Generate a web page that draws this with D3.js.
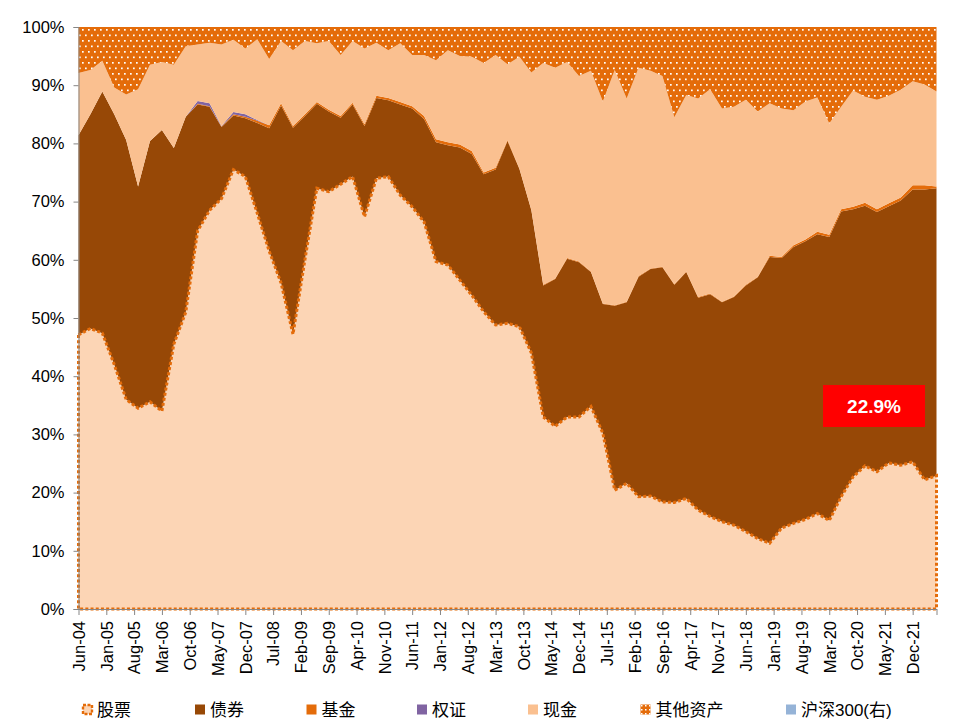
<!DOCTYPE html>
<html><head><meta charset="utf-8">
<script src="https://cdn.jsdelivr.net/npm/d3@7"></script>
<style>
html,body{margin:0;padding:0;background:#fff;}
svg{display:block;}
text{font-family:"Liberation Sans",Arial,"Noto Sans CJK SC",sans-serif;}
</style></head>
<body>
<svg id="chart" width="959" height="728"></svg>
<script>
// ---- data (percent of fund assets, quarterly) ----
const quarters = [
 "2004-06","2004-09","2004-12",
 "2005-03","2005-06","2005-09","2005-12","2006-03","2006-06","2006-09","2006-12",
 "2007-03","2007-06","2007-09","2007-12","2008-03","2008-06","2008-09","2008-12",
 "2009-03","2009-06","2009-09","2009-12","2010-03","2010-06","2010-09","2010-12",
 "2011-03","2011-06","2011-09","2011-12","2012-03","2012-06","2012-09","2012-12",
 "2013-03","2013-06","2013-09","2013-12","2014-03","2014-06","2014-09","2014-12",
 "2015-03","2015-06","2015-09","2015-12","2016-03","2016-06","2016-09","2016-12",
 "2017-03","2017-06","2017-09","2017-12","2018-03","2018-06","2018-09","2018-12",
 "2019-03","2019-06","2019-09","2019-12","2020-03","2020-06","2020-09","2020-12",
 "2021-03","2021-06","2021-09","2021-12","2022-03","2022-06"];
const stock = [47.1,48.2,47.4,42.0,36.0,34.5,35.6,34.0,45.5,51.0,
 65.0,68.5,70.5,75.5,74.3,68.0,61.5,56.0,47.2,60.0,
 72.3,71.7,73.0,74.3,67.4,74.0,74.3,71.1,69.1,66.5,
 59.7,59.1,56.5,53.9,51.1,48.8,49.1,48.5,44.0,33.0,
 31.4,33.0,33.0,34.8,30.2,20.4,21.6,19.3,19.4,18.4,
 18.3,19.0,17.0,15.9,15.0,14.4,13.3,12.1,11.3,13.9,
 14.7,15.4,16.4,15.2,19.3,22.7,24.6,23.6,25.1,24.7,
 25.3,22.2,22.9];
const bond = [34.3,36.8,41.5,43.0,44.6,38.1,44.8,48.3,33.7,33.6,
 21.7,17.8,12.3,9.3,10.0,15.5,21.1,30.5,35.5,24.7,
 14.5,13.8,11.4,12.4,15.6,13.8,13.1,15.6,16.9,17.7,
 20.5,20.6,22.8,24.3,23.6,26.7,31.3,27.1,24.5,22.6,
 25.3,27.2,26.6,23.1,22.2,31.7,31.1,37.8,39.0,40.3,
 37.4,38.9,36.5,38.2,37.7,39.2,42.3,44.9,49.2,46.4,
 47.5,47.8,48.0,48.7,49.0,46.0,44.7,44.6,44.1,45.5,
 46.8,49.9,49.4];
const fund = [0,0,0,0,0,0,0,0,0,0,
 0.1,0.1,0.1,0.2,0.3,0.4,0.5,0.4,0.3,0.3,
 0.3,0.3,0.3,0.3,0.3,0.4,0.4,0.4,0.4,0.5,
 0.5,0.5,0.5,0.5,0.3,0.3,0.2,0.1,0.1,0.1,
 0.1,0.1,0.1,0.1,0.1,0.1,0.1,0.1,0.1,0.1,
 0.1,0.1,0.1,0.1,0.1,0.1,0.1,0.1,0.2,0.2,
 0.3,0.3,0.4,0.4,0.4,0.4,0.5,0.5,0.5,0.5,
 0.7,0.7,0.3];
const warrant = [0,0,0,0,0,0,0,0,0,0,
 0.5,0.5,0.1,0.4,0.4,0.1,0,0,0,0,
 0,0,0,0,0,0,0,0,0,0,
 0,0,0,0,0,0,0,0,0,0,
 0,0,0,0,0,0,0,0,0,0,
 0,0,0,0,0,0,0,0,0,0,
 0,0,0,0,0,0,0,0,0,0,
 0,0,0];
const cash = [10.7,7.6,5.3,4.6,7.8,16.7,13.1,11.7,14.3,12.1,
 9.7,10.4,14.0,12.4,11.3,13.9,11.4,10.7,13.0,12.6,
 10.1,11.8,10.5,10.6,13.0,9.1,8.2,10.1,8.8,10.5,
 13.6,15.8,15.2,16.2,18.8,19.4,13.0,19.2,23.6,38.1,
 36.2,33.7,31.9,34.5,34.7,40.4,34.9,35.8,34.0,32.8,
 28.7,30.3,34.1,35.1,33.2,32.6,31.8,28.4,26.2,25.5,
 23.2,23.7,23.1,19.1,17.6,20.0,18.2,18.8,18.5,18.5,
 17.9,17.3,16.3];
const other = [7.9,7.4,5.8,10.4,11.6,10.7,6.5,6.0,6.5,3.3,
 3.0,2.7,3.0,2.2,3.7,2.1,5.5,2.4,4.0,2.4,
 2.8,2.4,4.8,2.4,3.7,2.7,4.0,2.8,4.8,4.8,
 5.7,4.0,5.0,5.1,6.2,4.8,6.4,5.1,7.8,6.2,
 7.0,6.0,8.4,7.5,12.8,7.4,12.3,7.0,7.5,8.4,
 15.5,11.7,12.3,10.7,14.0,13.7,12.5,14.5,13.1,14.0,
 14.3,12.8,12.1,16.6,13.7,10.9,12.0,12.5,11.8,10.8,
 9.3,9.9,11.1];
const xTickLabels = ["Jun-04","Jan-05","Aug-05","Mar-06","Oct-06","May-07","Dec-07","Jul-08",
 "Feb-09","Sep-09","Apr-10","Nov-10","Jun-11","Jan-12","Aug-12","Mar-13","Oct-13","May-14",
 "Dec-14","Jul-15","Feb-16","Sep-16","Apr-17","Nov-17","Jun-18","Jan-19","Aug-19","Mar-20",
 "Oct-20","May-21","Dec-21"];
const yTicks = [0,10,20,30,40,50,60,70,80,90,100];
const seriesNames = ["股票","债券","基金","权证","现金","其他资产","沪深300(右)"];
const annotation = "22.9%";

// ---- helpers ----
const baseYear = 2004, baseMonth = 6;
function monthIndexFromISO(s){ const [y,m] = s.split("-").map(Number); return (y-baseYear)*12 + (m-baseMonth); }
const parseLbl = d3.timeParse("%b-%y");
function monthIndexFromLabel(s){ const d = parseLbl(s); return (d.getFullYear()-baseYear)*12 + (d.getMonth()+1-baseMonth); }

const rows = quarters.map((q,i)=>({m:monthIndexFromISO(q), stock:stock[i], bond:bond[i], fund:fund[i], warrant:warrant[i], cash:cash[i], other:other[i]}));
const keys = ["stock","bond","fund","warrant","cash","other"];
const stacked = d3.stack().keys(keys)(rows);

const svg = d3.select("#chart");
const x = d3.scaleLinear().domain([0, monthIndexFromISO("2022-06")]).range([78.5, 936.5]);
const y = d3.scaleLinear().domain([0,100]).range([609, 27]);

const colors = {stock:"#FCD5B5", bond:"#974806", fund:"#E46C0A", warrant:"#8064A2", cash:"#FAC090", other:"url(#dots)"};

// pattern for other assets
const defs = svg.append("defs");
const pat = defs.append("pattern").attr("id","dots").attr("patternUnits","userSpaceOnUse")
  .attr("width",6).attr("height",11);
pat.append("rect").attr("width",6).attr("height",11).attr("fill","#E46C0A");
pat.append("rect").attr("x",1).attr("y",1.5).attr("width",1.7).attr("height",1.7).attr("fill","#FFFFFF");
pat.append("rect").attr("x",4).attr("y",7).attr("width",1.7).attr("height",1.7).attr("fill","#FFFFFF");
const pat2 = defs.append("pattern").attr("id","dotsL").attr("patternUnits","userSpaceOnUse")
  .attr("width",4).attr("height",4);
pat2.append("rect").attr("width",4).attr("height",4).attr("fill","#E46C0A");
pat2.append("rect").attr("x",1).attr("y",1).attr("width",1.5).attr("height",1.5).attr("fill","#FFFFFF");

const area = d3.area().x(d=>x(d.data.m)).y0(d=>y(d[0])).y1(d=>y(d[1])).curve(d3.curveLinear);

const g = svg.append("g");
stacked.forEach(s=>{
  g.append("path").attr("d", area(s)).attr("fill", colors[s.key]).attr("stroke", "none");
});
// dotted outline of stock area
g.append("path").attr("d", area(stacked[0])).attr("fill","none")
  .attr("stroke","#E46C0A").attr("stroke-width",3).attr("stroke-dasharray","3,2.2");

// ---- axes ----
const axisColor = "#868686";
const yAxis = svg.append("g").attr("transform","translate(78.5,0)")
  .call(d3.axisLeft(y).tickValues(yTicks).tickSize(5).tickPadding(9).tickFormat(d=>d+"%"));
yAxis.select(".domain").attr("stroke",axisColor);
yAxis.selectAll(".tick line").attr("stroke",axisColor);
yAxis.selectAll("text").attr("font-size",16.5).attr("fill","#000").attr("font-family",'"Liberation Sans",Arial,sans-serif');

const xTickVals = xTickLabels.map(monthIndexFromLabel);
const xAxis = svg.append("g").attr("transform","translate(0,609)")
  .call(d3.axisBottom(x).tickValues(xTickVals.concat([x.domain()[1]])).tickSize(6).tickSizeOuter(0)
    .tickFormat((d,i)=> i < xTickLabels.length ? xTickLabels[i] : ""));
xAxis.select(".domain").attr("stroke",axisColor);
xAxis.selectAll(".tick line").attr("stroke",axisColor);
xAxis.selectAll("text").attr("font-size",16.5).attr("fill","#000")
  .attr("font-family",'"Liberation Sans",Arial,sans-serif')
  .attr("text-anchor","end").attr("transform","rotate(-90)")
  .attr("x",-12).attr("y",0).attr("dy","0.35em");

// ---- annotation ----
const ann = svg.append("g");
ann.append("rect").attr("x",823).attr("y",385).attr("width",102).attr("height",42).attr("fill","#FF0000");
ann.append("text").attr("x",874).attr("y",413).attr("text-anchor","middle").attr("fill","#fff")
  .attr("font-size",19).attr("font-weight","bold").text(annotation);

// ---- legend ----
const legX = [82,195,306.5,417,528,640.5,786];
const legColors = ["#FCD5B5","#974806","#E46C0A","#8064A2","#FAC090","url(#dotsL)","#95B3D7"];
const leg = svg.append("g");
seriesNames.forEach((n,i)=>{
  const lx = legX[i];
  if(i===0){
    leg.append("rect").attr("x",lx+1).attr("y",705).attr("width",9).attr("height",9)
      .attr("fill","#FCD5B5").attr("stroke","#E46C0A").attr("stroke-width",2.4).attr("stroke-dasharray","3,1.5");
  } else {
    leg.append("rect").attr("x",lx).attr("y",704.5).attr("width",10).attr("height",10).attr("fill",legColors[i]);
  }
  leg.append("text").attr("x",lx+15).attr("y",716).attr("font-size",17).attr("fill","#000")
    .attr("font-family",'"Liberation Sans",Arial,"Noto Sans CJK SC",sans-serif').text(n);
});
</script>
</body></html>
